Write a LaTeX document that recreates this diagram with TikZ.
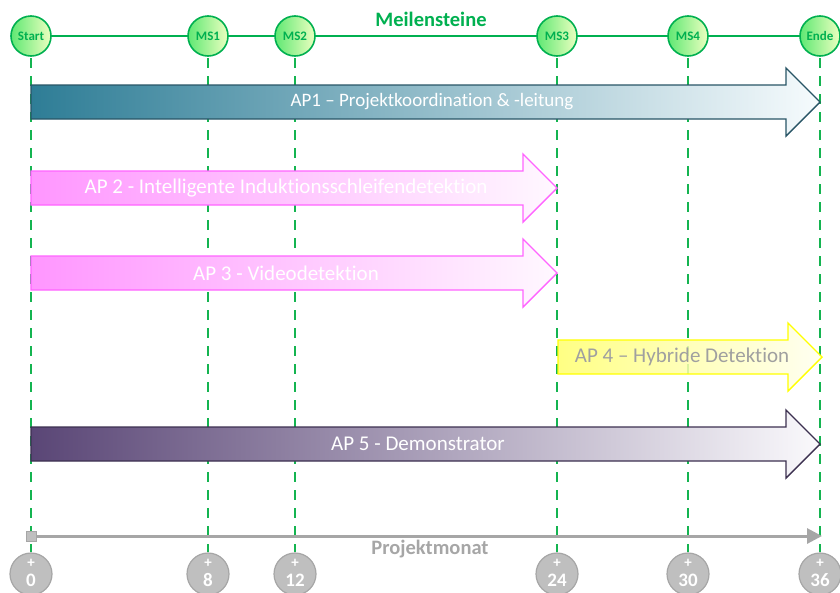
\documentclass[tikz,border=0pt]{standalone}
\usepackage{fontspec}
\setmainfont{Carlito}[Ligatures=NoCommon]
\usetikzlibrary{arrows.meta}
\definecolor{msgreen}{RGB}{0,176,80}
\definecolor{msline}{RGB}{20,180,80}
\definecolor{msleft}{RGB}{95,232,115}
\definecolor{msright}{RGB}{236,255,192}
\definecolor{axgray}{RGB}{166,166,166}
\definecolor{circgray}{RGB}{191,191,191}
\definecolor{apAleft}{RGB}{46,125,150}
\definecolor{apAright}{RGB}{246,251,253}
\definecolor{apAline}{RGB}{40,85,102}
\definecolor{apBleft}{RGB}{255,150,255}
\definecolor{apBright}{RGB}{255,248,255}
\definecolor{apBline}{RGB}{255,100,255}
\definecolor{apCleft}{RGB}{255,255,110}
\definecolor{apCright}{RGB}{255,255,240}
\definecolor{apCline}{RGB}{255,255,0}
\definecolor{apDleft}{RGB}{90,70,118}
\definecolor{apDright}{RGB}{250,249,252}
\definecolor{apDline}{RGB}{60,48,80}
\definecolor{textgray}{RGB}{160,160,160}
\tikzset{
  x=1pt, y=-1pt,
  msnode/.style={circle, minimum size=40pt, inner sep=0pt, draw=msgreen, line width=1.6pt,
     left color=msleft, right color=msright, text=msgreen, font=\bfseries\fontsize{13}{13}\selectfont},
  monthnode/.style={circle, minimum size=42pt, inner sep=0pt, draw=axgray, line width=1.2pt,
     fill=circgray},
  monthplus/.style={text=white, inner sep=0pt, font=\bfseries\fontsize{15}{15}\selectfont},
  monthnum/.style={text=white, inner sep=0pt, font=\bfseries\fontsize{19}{19}\selectfont},
  msdash/.style={draw=msline, line width=2.4pt, dash pattern=on 10pt off 8pt},
  aptext/.style={font=\fontsize{21}{21}\selectfont, text=white},
}
\newcommand\aparrow[4]{%
  \path[#4, line width=1.4pt, line join=miter]
    (#1,{#3-17}) -- ({#2-34},{#3-17}) -- ({#2-34},{#3-34}) -- (#2,#3)
    -- ({#2-34},{#3+34}) -- ({#2-34},{#3+17}) -- (#1,{#3+17}) -- cycle;}
\begin{document}
\begin{tikzpicture}
\useasboundingbox (0,0) rectangle (840,592);
% top line
\draw[msgreen, line width=1.6pt] (31,36) -- (820,36);
% dashed verticals
\foreach \xx in {31,208,295,557,688,820}{
  \draw[msdash] (\xx,58) -- (\xx,552);
}
% arrows
\aparrow{31}{820}{102}{left color=apAleft, right color=apAright, draw=apAline}
\aparrow{31}{557}{188}{left color=apBleft, right color=apBright, draw=apBline}
\aparrow{31}{557}{273}{left color=apBleft, right color=apBright, draw=apBline}
\aparrow{558}{822}{357}{left color=apCleft, right color=apCright, draw=apCline, fill opacity=0.85}
\aparrow{31}{820}{444}{left color=apDleft, right color=apDright, draw=apDline}
\node[aptext, font=\fontsize{19}{19}\selectfont] (t1) at (432,102) {AP1 – Projektkoordination \& -leitung};
\node[aptext] (t2) at (286,188) {AP 2 - Intelligente Induktionsschleifendetektion};
\node[aptext] (t3) at (286,273) {AP 3 - Videodetektion};
\node[aptext, text=textgray] (t4) at (682,357) {AP 4 – Hybride Detektion};
\node[aptext] (t5) at (418,444) {AP 5 - Demonstrator};
% milestones
\node[msnode] (ms0) at (31,36) {Start};
\node[msnode] (ms1) at (208,36) {MS1};
\node[msnode] (ms2) at (295,36) {MS2};
\node[msnode] (ms3) at (557,36) {MS3};
\node[msnode] (ms4) at (688,36) {MS4};
\node[msnode] (ms5) at (820,36) {Ende};
\node[text=msgreen, font=\bfseries\fontsize{20.5}{20.5}\selectfont] (mtitle) at (431,19) {Meilensteine};
% axis
\coordinate (axend) at (822,536);
\node[draw=axgray, fill=circgray, minimum size=10pt, inner sep=0pt, line width=1pt] (axstart) at (31,536) {};
\draw[axgray, line width=3pt, -{Triangle[length=15pt,width=15pt]}] (axstart.east) -- (axend);
\node[text=axgray, font=\bfseries\fontsize{20.5}{20.5}\selectfont] (axlabel) at (430,549) {Projektmonat};
% month circles
\foreach \xx/\mm [count=\i] in {31/0,208/8,295/12,557/24,688/30,820/36}{
  \node[monthnode] (m\i) at (\xx,574) {};
  \node[monthplus] (mp\i) at (\xx,563) {+};
  \node[monthnum] (mn\i) at (\xx,580) {\mm};
}
\end{tikzpicture}
\end{document}
